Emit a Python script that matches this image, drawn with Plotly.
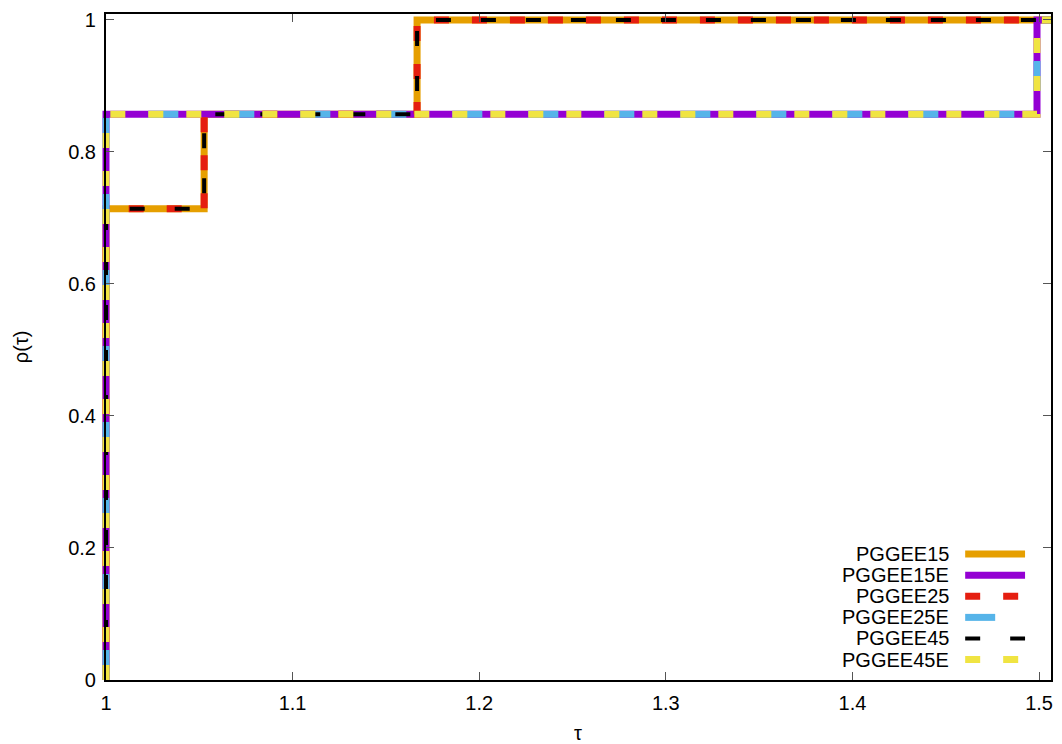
import plotly.graph_objects as go

# Performance profile: fraction of problems solved within a factor tau of the best
tau_base = [1.0, 1.0, 1.0526, 1.1667, 1.5064]
rho_base = [0.0, 0.714, 0.857, 1.0, 1.0]
tau_ext = [1.0, 1.0, 1.4989, 1.5064]
rho_ext = [0.0, 0.857, 1.0, 1.0]

names = ["PGGEE15", "PGGEE15E", "PGGEE25", "PGGEE25E", "PGGEE45", "PGGEE45E"]
colors = ["#E69F00", "#9400D3", "#E51E10", "#56B4E9", "#000000", "#F0E442"]
dashes = ["solid", "solid", "15px,23px", "30px,46px", "15px,30px", "15px,23px"]
widths = [7, 7, 7, 7, 4, 7]
series_tau = [tau_base, tau_ext, tau_base, tau_ext, tau_base, tau_ext]
series_rho = [rho_base, rho_ext, rho_base, rho_ext, rho_base, rho_ext]

x_ticks = [1.0, 1.1, 1.2, 1.3, 1.4, 1.5]
y_ticks = [0.0, 0.2, 0.4, 0.6, 0.8, 1.0]
x_range = [1.0, 1.5064]
y_range = [0.0, 1.009]

FONT = "Liberation Sans, Arial, sans-serif"
FS = 20

# Page geometry (pixels): framed plot box and a slightly wider box for the
# curves, so the step at tau = 1 is not cut in half by the frame.
W, H = 1062, 744
ML, MR, MT, MB = 98, 9, 11, 64
BOX_L, BOX_R, BOX_T, BOX_B = 106, 1052, 11, 680
PAD = BOX_L - ML
paper_w = W - ML - MR
px_per_unit = (BOX_R - BOX_L) / (x_range[1] - x_range[0])
data_x_range = [x_range[0] - PAD / px_per_unit, x_range[1]]


def px_x(p):
    return (p - ML) / paper_w


def px_y(p):
    return (BOX_B - p) / (BOX_B - BOX_T)


fig = go.Figure()
for name, c, d, w, tx, ry in zip(names, colors, dashes, widths, series_tau, series_rho):
    fig.add_trace(go.Scatter(
        x=tx, y=ry, mode="lines", name=name, line_shape="hv",
        line=dict(color=c, dash=d, width=w), cliponaxis=False,
        showlegend=False, xaxis="x", yaxis="y",
    ))

# Key in the lower-right corner: label on the left, line sample on the right
row0, row_step = 553.5, 21.2
for i, (name, c, d, w) in enumerate(zip(names, colors, dashes, widths)):
    yc = row0 + i * row_step
    fig.add_annotation(
        x=px_x(953), y=px_y(yc), xref="paper", yref="paper",
        text=name, showarrow=False, xanchor="right", yanchor="middle",
        font=dict(family=FONT, size=FS, color="#000000"),
    )
    fig.add_shape(
        type="line", xref="paper", yref="paper",
        x0=px_x(967), x1=px_x(1027), y0=px_y(yc), y1=px_y(yc),
        line=dict(color=c, dash=d, width=w),
    )

fig.add_annotation(
    x=px_x(579), y=px_y(733), xref="paper", yref="paper",
    text="τ", showarrow=False, xanchor="center", yanchor="middle",
    font=dict(family=FONT, size=FS, color="#000000"),
)
fig.add_annotation(
    x=px_x(21), y=0.5, xref="paper", yref="paper",
    text="ρ(τ)", showarrow=False, xanchor="center", yanchor="middle",
    textangle=-90, font=dict(family=FONT, size=FS, color="#000000"),
)

axis_common = dict(
    showgrid=False, zeroline=False, showline=True, linecolor="#000000",
    linewidth=2, mirror="ticks", ticks="inside", ticklen=8, tickwidth=1,
    tickcolor="#555555", tickfont=dict(family=FONT, size=FS, color="#000000"),
    ticklabelstandoff=4,
)

fig.update_layout(
    width=W, height=H,
    margin=dict(l=ML, r=MR, t=MT, b=MB),
    paper_bgcolor="#ffffff", plot_bgcolor="rgba(0,0,0,0)",
    showlegend=False,
    # axes carrying the curves (not drawn)
    xaxis=dict(domain=[0, 1], range=data_x_range, visible=False, anchor="y"),
    yaxis=dict(domain=[0, 1], range=y_range, visible=False, anchor="x"),
    # framed axes drawn on top of the curves
    xaxis2=dict(domain=[px_x(BOX_L), 1], range=x_range, anchor="y2",
                tickvals=x_ticks, ticktext=[f"{v:g}" for v in x_ticks],
                **axis_common),
    yaxis2=dict(domain=[0, 1], range=y_range, anchor="x2",
                tickvals=y_ticks, ticktext=[f"{v:g}" for v in y_ticks],
                **axis_common),
)
# invisible placeholder so the framed subplot is rendered
fig.add_trace(go.Scatter(x=[None], y=[None], xaxis="x2", yaxis="y2",
                         showlegend=False, hoverinfo="skip"))

fig.write_html("out.html")
